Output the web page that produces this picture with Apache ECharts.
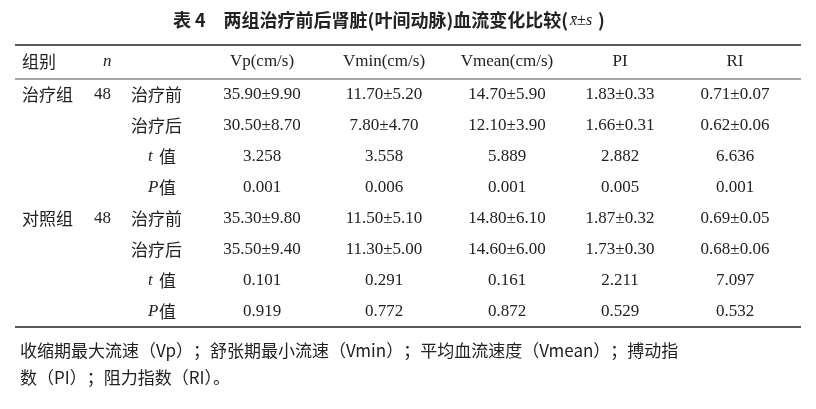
<!DOCTYPE html><html><head><meta charset="utf-8">
<script src="https://cdn.jsdelivr.net/npm/echarts@6/dist/echarts.min.js"></script>
<style>html,body{margin:0;background:#fff}#c{width:816px;height:409px}</style></head><body><div id="c"></div>
<script>
const title = '表 4　两组治疗前后肾脏(叶间动脉)血流变化比较(';
const headers = ['Vp(cm/s)','Vmin(cm/s)','Vmean(cm/s)','PI','RI'];
const groups = ['治疗组','','','','对照组','','',''];
const nVals = ['48','','','','48','','',''];
const rowLabels = ['治疗前','治疗后','t 值','P 值','治疗前','治疗后','t 值','P 值'];
const vp = ['35.90±9.90','30.50±8.70','3.258','0.001','35.30±9.80','35.50±9.40','0.101','0.919'];
const vmin = ['11.70±5.20','7.80±4.70','3.558','0.006','11.50±5.10','11.30±5.00','0.291','0.772'];
const vmean = ['14.70±5.90','12.10±3.90','5.889','0.001','14.80±6.10','14.60±6.00','0.161','0.872'];
const pi = ['1.83±0.33','1.66±0.31','2.882','0.005','1.87±0.32','1.73±0.30','2.211','0.529'];
const ri = ['0.71±0.07','0.62±0.06','6.636','0.001','0.69±0.05','0.68±0.06','7.097','0.532'];
const notes = ['收缩期最大流速（Vp）；舒张期最小流速（Vmin）；平均血流速度（Vmean）；搏动指','数（PI）；阻力指数（RI）。'];

const serif = '"Liberation Serif","Noto Serif CJK SC","Noto Sans CJK SC",serif';
const cjk = '"Noto Sans CJK SC",sans-serif';
const colX = [262,384,507,620,735];
const cols = [vp,vmin,vmean,pi,ri];
const rowY0 = 95, rowH = 31;
const els = [];
function txt(x,y,s,opt){els.push({type:'text',x:x,y:y,style:Object.assign({text:s,fill:'#222',fontSize:17,fontFamily:serif,textVerticalAlign:'middle'},opt||{})});}
function line(y,w){els.push({type:'line',shape:{x1:15,y1:y,x2:801,y2:y},style:{stroke:'#222',lineWidth:w}});}
txt(568,20,title,{fontFamily:cjk,fontSize:18,fontWeight:'bold',textAlign:'right'});
txt(570,21,'x̄±s',{fontStyle:'italic',fontSize:16});
txt(598,20,')',{fontFamily:cjk,fontSize:18,fontWeight:'bold'});
line(45,1.6);line(79,0.8);line(327,1.6);
txt(22,62,'组别',{fontFamily:cjk});
txt(103,62,'n',{fontStyle:'italic'});
headers.forEach((h,i)=>txt(colX[i],62,h,{textAlign:'center'}));
rowLabels.forEach((lab,r)=>{
  const y=rowY0+r*rowH;
  if(groups[r]) txt(22,y,groups[r],{fontFamily:cjk});
  if(nVals[r]) txt(94,y,nVals[r]);
  const parts=lab.split(' ');
  if(parts.length===2){txt(148,y,parts[0],{fontStyle:'italic'});txt(159,y,parts[1],{fontFamily:cjk});}
  else txt(131,y,lab,{fontFamily:cjk});
  cols.forEach((c,i)=>txt(colX[i],y,c[r],{textAlign:'center'}));
});
notes.forEach((n,i)=>txt(20,351+i*27,n,{fontFamily:cjk,fontSize:17}));
const ch=echarts.init(document.getElementById('c'));
ch.setOption({animation:false,graphic:{elements:els}});
</script></body></html>
